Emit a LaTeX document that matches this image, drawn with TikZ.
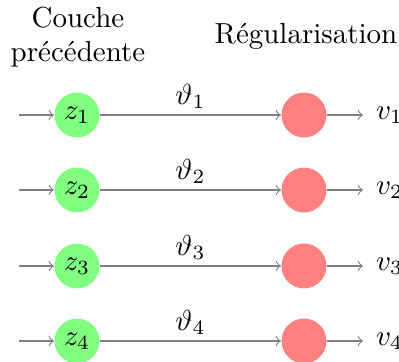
\documentclass[tikz,border=0pt]{standalone}
\begin{document}
\begin{tikzpicture}[x=0.345pt,y=-0.345pt,
  inneuron/.style={circle,fill=green!50,minimum size=15.5pt,inner sep=0pt},
  regneuron/.style={circle,fill=red!50,minimum size=15.5pt,inner sep=0pt},
  conn/.style={->,draw=gray,line width=0.4pt},
  outlabel/.style={anchor=west,inner ysep=0pt,inner xsep=4.3pt},
  header/.style={align=center,font=\normalsize}]
\useasboundingbox (0,0) rectangle (399,362);
\node[header] (hin) at (78,37) {Couche\\précédente};
\node[header] (hreg) at (306,36) {Régularisation};
\foreach \i/\y in {1/115,2/190,3/266,4/341}{
  \coordinate (s\i) at (19,\y);
  \node[inneuron] (z\i) at (77,\y) {$z_{\i}$};
  \node[regneuron] (r\i) at (304,\y) {};
  \node[outlabel] (v\i) at (363,\y) {$v_{\i}$};
  \draw[conn] (s\i) -- (z\i);
  \draw[conn] (z\i) -- node[above,inner sep=2pt] (t\i) {$\vartheta_{\i}$} (r\i);
  \draw[conn] (r\i) -- (v\i);
}
\end{tikzpicture}
\end{document}
